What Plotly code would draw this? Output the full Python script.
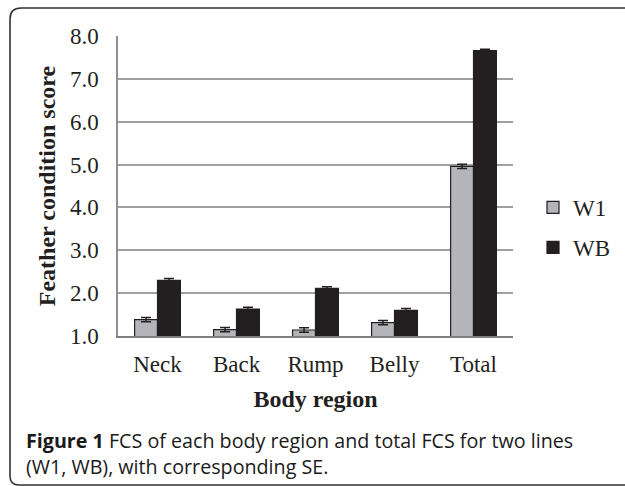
import plotly.graph_objects as go

categories = ["Neck", "Back", "Rump", "Belly", "Total"]
w1_values = [1.38, 1.15, 1.14, 1.31, 4.96]
w1_se = [0.05, 0.05, 0.05, 0.05, 0.05]
wb_values = [2.30, 1.63, 2.11, 1.60, 7.66]
wb_se = [0.04, 0.04, 0.04, 0.04, 0.03]
y_ticks = [1, 2, 3, 4, 5, 6, 7, 8]

W, H = 625, 486
PL, PR, PT, PB = 118, 513, 36, 336  # plot area in pixels

def px(x):
    return (x - PL) / (PR - PL)

def py(y):
    return (PB - y) / (PB - PT)

serif = "Liberation Serif"
ink = "#231f20"

fig = go.Figure()
fig.add_trace(go.Bar(
    name="W1", x=categories, y=w1_values,
    marker=dict(color="#b4b5b8", line=dict(color=ink, width=1.2)),
    error_y=dict(type="data", array=w1_se, color=ink, thickness=1.5, width=5),
    legendgroup="a",
))
fig.add_trace(go.Bar(
    name="WB", x=categories, y=wb_values,
    marker=dict(color=ink, line=dict(color=ink, width=1.2)),
    error_y=dict(type="data", array=wb_se, color=ink, thickness=1.5, width=5),
    legendgroup="b",
))

# figure frame (rounded left corners)
path = (f"M {px(626)},{py(8)} L {px(21)},{py(8)} "
        f"Q {px(10)},{py(8)} {px(10)},{py(19)} "
        f"L {px(10)},{py(476)} Q {px(10)},{py(485)} {px(19)},{py(485)} "
        f"L {px(626)},{py(485)}")
fig.add_shape(type="path", xref="paper", yref="paper", path=path,
              line=dict(color="#333333", width=1.6), layer="above")

fig.add_annotation(
    xref="paper", yref="paper", x=px(24), y=py(425), xanchor="left", yanchor="top",
    align="left", showarrow=False,
    text="<b>Figure 1</b> FCS of each body region and total FCS for two lines<br>(W1, WB), with corresponding SE.",
    font=dict(family="Open Sans", size=19.7, color="#1a1a1a"),
)

fig.update_layout(
    width=W, height=H,
    margin=dict(l=PL, r=W - PR, t=PT, b=H - PB, pad=0, autoexpand=False),
    paper_bgcolor="white", plot_bgcolor="white",
    barmode="group", bargap=0.42, bargroupgap=0,
    font=dict(family=serif, size=23, color=ink),
    showlegend=True,
    legend=dict(x=px(533), y=py(186), xanchor="left", yanchor="top",
                traceorder="grouped", tracegroupgap=7,
                font=dict(family=serif, size=23, color=ink),
                bgcolor="rgba(0,0,0,0)"),
    xaxis=dict(
        showline=True, linecolor="#808080", linewidth=1.5,
        ticks="", ticklabelstandoff=7,
        title=dict(text="<b>Body region</b>", font=dict(family=serif, size=24, color=ink), standoff=14),
    ),
    yaxis=dict(
        range=[1, 8], tickvals=y_ticks, tickformat=".1f",
        showline=True, linecolor="#909090", linewidth=1.5,
        showgrid=True, gridcolor="#a0a0a0", gridwidth=1.5,
        zeroline=False, ticks="", ticklabelstandoff=13,
        title=dict(text="<b>Feather condition score</b>", font=dict(family=serif, size=24, color=ink), standoff=8),
    ),
)

fig.write_html("out.html", config={"displayModeBar": False},
               post_script="document.body.style.margin='0';")
